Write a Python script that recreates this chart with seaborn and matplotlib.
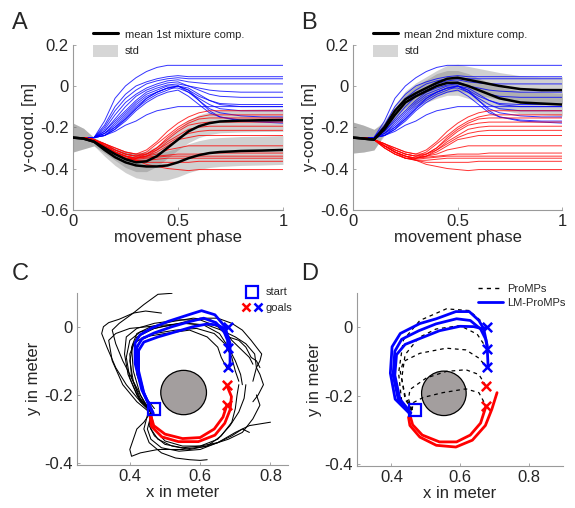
import numpy as np
import pandas as pd
import matplotlib
matplotlib.use("Agg")
import matplotlib.pyplot as plt
import seaborn as sns
from matplotlib.patches import Circle, Patch
from matplotlib.lines import Line2D
from matplotlib.legend_handler import HandlerTuple

#####################################################################################################
# Data
#####################################################################################################
PHASE = [0, .05, .1, .15, .2, .25, .3, .35, .4, .45, .5, .55, .6, .65, .7, .8, .9, 1.0]

BLUE_LINES = [
    [-.25, -.25, -.25, -.17, -.06, 0.0, .04, .07, .09, .10, .10, .10, .10, .10, .10, .10, .10, .10],
    [-.25, -.25, -.25, -.19, -.10, -.04, 0.0, .02, .035, .045, .05, .045, .045, .045, .045, .045, .045, .045],
    [-.25, -.25, -.25, -.20, -.12, -.06, -.02, .01, .025, .035, .04, .035, .035, .035, .035, .035, .035, .035],
    [-.25, -.25, -.25, -.21, -.14, -.08, -.04, -.01, .01, .025, .03, .02, .015, .01, .01, .01, .01, .01],
    [-.25, -.25, -.25, -.22, -.16, -.10, -.05, -.02, 0.0, .015, .02, 0.0, -.01, -.02, -.025, -.03, -.03, -.03],
    [-.25, -.25, -.25, -.22, -.17, -.12, -.07, -.03, -.01, .005, .01, 0.0, -.02, -.04, -.05, -.055, -.055, -.055],
    [-.25, -.25, -.25, -.23, -.18, -.13, -.08, -.04, -.02, 0.0, 0.0, -.02, -.05, -.07, -.085, -.09, -.09, -.09],
    [-.25, -.25, -.25, -.23, -.19, -.14, -.09, -.05, -.03, -.01, 0.0, -.01, -.04, -.07, -.09, -.10, -.10, -.10],
    [-.25, -.25, -.25, -.23, -.20, -.15, -.10, -.06, -.03, -.01, -.01, -.03, -.06, -.09, -.11, -.12, -.12, -.12],
    [-.25, -.25, -.25, -.24, -.20, -.16, -.11, -.07, -.04, -.02, 0.0, -.03, -.07, -.11, -.13, -.145, -.15, -.15],
    [-.25, -.25, -.25, -.24, -.21, -.17, -.12, -.08, -.05, -.03, -.02, -.05, -.09, -.13, -.15, -.165, -.17, -.17],
    [-.25, -.25, -.25, -.24, -.22, -.19, -.17, -.14, -.12, -.11, -.10, -.10, -.10, -.10, -.10, -.10, -.10, -.10],
    [-.25, -.25, -.25, -.24, -.21, -.16, -.11, -.06, -.03, -.01, 0.0, -.02, -.07, -.12, -.15, -.17, -.175, -.18],
]

RED_LINES = [
    [-.25, -.25, -.26, -.28, -.30, -.32, -.33, -.31, -.27, -.22, -.18, -.15, -.13, -.12, -.12, -.12, -.12, -.12],
    [-.25, -.25, -.26, -.28, -.31, -.33, -.34, -.32, -.28, -.24, -.20, -.17, -.15, -.14, -.14, -.14, -.14, -.14],
    [-.25, -.25, -.26, -.29, -.31, -.33, -.34, -.33, -.30, -.25, -.21, -.18, -.16, -.155, -.155, -.155, -.155, -.155],
    [-.25, -.25, -.26, -.29, -.32, -.34, -.35, -.33, -.30, -.26, -.22, -.19, -.18, -.175, -.175, -.175, -.175, -.175],
    [-.25, -.25, -.26, -.28, -.30, -.32, -.33, -.33, -.31, -.27, -.24, -.21, -.20, -.195, -.195, -.195, -.195, -.195],
    [-.25, -.25, -.26, -.29, -.32, -.34, -.35, -.34, -.31, -.28, -.25, -.23, -.22, -.215, -.215, -.215, -.215, -.215],
    [-.25, -.25, -.26, -.30, -.33, -.35, -.35, -.34, -.32, -.29, -.26, -.25, -.24, -.24, -.24, -.24, -.24, -.24],
    [-.25, -.25, -.26, -.28, -.31, -.33, -.34, -.34, -.33, -.31, -.30, -.29, -.29, -.29, -.29, -.29, -.29, -.29],
    [-.25, -.25, -.26, -.29, -.32, -.34, -.35, -.345, -.34, -.335, -.33, -.33, -.33, -.325, -.325, -.325, -.325, -.325],
    [-.25, -.25, -.26, -.29, -.32, -.35, -.355, -.35, -.345, -.34, -.34, -.34, -.34, -.34, -.34, -.34, -.34, -.34],
    [-.25, -.25, -.26, -.30, -.33, -.35, -.36, -.36, -.355, -.35, -.35, -.35, -.35, -.35, -.35, -.35, -.35, -.35],
    [-.25, -.25, -.26, -.30, -.33, -.35, -.36, -.37, -.37, -.37, -.37, -.37, -.365, -.365, -.365, -.365, -.365, -.365],
    [-.25, -.25, -.26, -.29, -.32, -.34, -.36, -.38, -.39, -.40, -.405, -.41, -.405, -.405, -.405, -.405, -.405, -.405],
]

# panel A: 1st mixture component (two means + std)
MEAN_A = [
    [-.25, -.255, -.27, -.30, -.33, -.355, -.37, -.365, -.34, -.30, -.26, -.22, -.195, -.18, -.172, -.168, -.166, -.165],
    [-.25, -.255, -.27, -.31, -.345, -.37, -.385, -.39, -.39, -.385, -.37, -.35, -.335, -.325, -.32, -.315, -.313, -.31],
]
STD_A = [
    [.07, .05, .02, .025, .03, .04, .045, .05, .05, .05, .05, .055, .055, .055, .055, .055, .055, .055],
    [.07, .05, .02, .03, .04, .05, .06, .065, .07, .07, .07, .07, .07, .07, .07, .07, .07, .07],
]
# panel B: 2nd mixture component
MEAN_B = [
    [-.25, -.255, -.26, -.20, -.12, -.065, -.035, -.01, .015, .035, .04, .03, .02, .01, 0.0, -.015, -.02, -.02],
    [-.25, -.255, -.26, -.21, -.14, -.08, -.05, -.025, 0.0, .015, .015, 0.0, -.02, -.04, -.06, -.08, -.085, -.09],
]
STD_B = [
    [.075, .065, .05, .03, .03, .04, .05, .055, .06, .065, .065, .065, .065, .065, .065, .065, .065, .065],
    [.075, .065, .05, .03, .03, .04, .05, .055, .06, .06, .06, .06, .058, .055, .055, .055, .055, .055],
]

# obstacle, start and goals (panels C and D)
OBSTACLE = (0.553, -0.193, 0.065)
START = (0.468, -0.242)
GOALS_BLUE_X = [0.678, 0.678, 0.68]
GOALS_BLUE_Y = [0.0, -0.062, -0.117]
GOALS_RED_X = [0.676, 0.676]
GOALS_RED_Y = [-0.172, -0.23]

# panel C: human demonstrations (black)
C_BLACK_X = [
    [.46, .43, .39, .36, .335, .32, .325, .34, .37, .41, .44, .48, .52],
    [.46, .44, .41, .38, .36, .35, .37, .41, .445, .49],
    [.46, .43, .41, .405, .42, .46, .52, .58, .63, .665, .69, .72, .74, .75],
    [.46, .42, .395, .385, .39, .42, .47, .54, .60, .65, .68, .71, .73, .745, .76, .77],
    [.47, .44, .42, .415, .43, .47, .53, .59, .64, .67, .69, .70, .71],
    [.46, .425, .40, .39, .40, .43, .49, .55, .61, .655, .68, .70, .715, .72],
    [.455, .42, .38, .35, .34, .36, .40, .45, .50, .56, .62, .66, .70, .73, .755, .76, .75],
    [.46, .43, .41, .40, .41, .44, .50, .57, .62, .65, .66, .675, .69],
    [.46, .43, .405, .40, .42, .47, .54, .60, .65, .69, .72, .745, .76, .775, .77, .76, .77, .78, .765, .75],
    [.46, .455, .47, .50, .55, .60, .65, .685, .71, .725, .73],
    [.46, .45, .46, .49, .54, .60, .65, .70, .74, .77, .80],
    [.45, .44, .455, .49, .53, .57, .60, .62],
    [.46, .46, .48, .52, .57, .62, .66, .69, .70, .705, .71],
    [.46, .47, .50, .55, .60, .65, .69, .72, .74],
    [.46, .44, .42, .41, .40, .405, .43, .48, .55, .62, .68, .72, .75, .77, .76],
]
C_BLACK_Y = [
    [-.25, -.22, -.17, -.12, -.06, -.02, 0.0, .012, .022, .04, .065, .095, .098],
    [-.25, -.22, -.16, -.10, -.05, -.01, .01, .04, .046, .04],
    [-.25, -.20, -.13, -.06, -.02, 0.0, .015, .025, .02, -.005, -.04, -.07, -.09, -.11],
    [-.25, -.20, -.14, -.08, -.03, -.005, .01, .02, .02, 0.0, -.03, -.04, -.06, -.09, -.10, -.12],
    [-.24, -.20, -.14, -.08, -.04, -.02, -.01, -.005, -.02, -.05, -.09, -.13, -.16],
    [-.25, -.21, -.15, -.09, -.04, -.015, 0.0, .01, .005, -.02, -.06, -.10, -.14, -.17],
    [-.25, -.22, -.17, -.10, -.04, -.02, -.005, 0.0, .005, .01, .005, -.01, -.03, -.05, -.08, -.12, -.16],
    [-.25, -.22, -.16, -.10, -.05, -.03, -.02, -.01, -.03, -.06, -.09, -.12, -.13],
    [-.25, -.21, -.15, -.08, -.03, -.005, .01, .025, .025, .01, -.01, -.04, -.06, -.08, -.10, -.12, -.14, -.17, -.20, -.22],
    [-.25, -.29, -.32, -.345, -.355, -.35, -.33, -.29, -.25, -.21, -.17],
    [-.26, -.30, -.33, -.355, -.365, -.36, -.34, -.31, -.29, -.285, -.28],
    [-.26, -.30, -.34, -.37, -.385, -.39, -.392, -.39],
    [-.25, -.30, -.33, -.35, -.36, -.35, -.32, -.28, -.24, -.20, -.17],
    [-.25, -.30, -.335, -.35, -.35, -.34, -.32, -.30, -.31],
    [-.25, -.28, -.30, -.33, -.36, -.38, -.37, -.36, -.36, -.35, -.33, -.31, -.27, -.23, -.20],
]

# panel C: learned model trajectories
C_BLUE_X = [
    [.467, .434, .415, .415, .429, .462, .51, .567, .604, .642, .67, .685, .685, .68],
    [.465, .438, .42, .42, .435, .47, .52, .57, .61, .645, .668, .678, .678],
    [.463, .44, .425, .425, .44, .48, .53, .58, .62, .65, .668, .678],
]
C_BLUE_Y = [
    [-.254, -.185, -.107, -.048, -.024, -.004, .016, .035, .047, .035, .001, -.048, -.107, -.121],
    [-.252, -.19, -.12, -.06, -.035, -.018, 0.0, .015, .025, .012, -.015, -.04, -.062],
    [-.25, -.195, -.13, -.07, -.045, -.03, -.015, 0.0, .008, .005, -.005, 0.0],
]
C_RED_X = [
    [.458, .462, .491, .538, .595, .642, .67, .685, .689, .676],
    [.46, .468, .50, .55, .60, .64, .665, .676],
]
C_RED_Y = [
    [-.264, -.293, -.323, -.337, -.337, -.318, -.283, -.244, -.205, -.172],
    [-.262, -.29, -.315, -.328, -.325, -.30, -.265, -.23],
]

# panel D: ProMPs (dashed) and LM-ProMPs
D_DASH_X = [
    [.46, .431, .421, .435, .483, .56, .627, .665, .676],
    [.46, .44, .43, .44, .48, .53, .60, .65, .678],
    [.46, .44, .426, .435, .483, .56, .617, .655, .678],
    [.46, .45, .454, .502, .56, .617, .655, .676],
    [.46, .464, .493, .55, .617, .655, .676],
]
D_DASH_Y = [
    [-.242, -.225, -.134, -.037, .02, .054, .049, .015, 0.0],
    [-.242, -.21, -.15, -.08, -.03, -.005, .005, -.02, -.062],
    [-.242, -.20, -.13, -.10, -.076, -.061, -.066, -.09, -.117],
    [-.242, -.21, -.182, -.148, -.129, -.124, -.138, -.172],
    [-.242, -.22, -.205, -.191, -.18, -.191, -.23],
]
D_BLUE_X = [
    [.455, .411, .397, .402, .426, .483, .531, .588, .627, .655, .669, .679, .682],
    [.455, .42, .405, .41, .43, .48, .53, .59, .63, .66, .675, .68],
    [.457, .425, .41, .415, .44, .49, .54, .60, .64, .665, .678],
]
D_BLUE_Y = [
    [-.254, -.21, -.134, -.057, -.018, .011, .025, .046, .046, .02, -.004, -.052, -.117],
    [-.252, -.21, -.14, -.07, -.035, -.01, .01, .025, .02, -.005, -.035, -.062],
    [-.25, -.21, -.14, -.08, -.05, -.03, -.01, .003, .002, -.004, 0.0],
]
D_RED_X = [
    [.45, .454, .483, .531, .588, .636, .674, .693, .708],
    [.455, .462, .49, .54, .59, .63, .66, .676],
]
D_RED_Y = [
    [-.263, -.287, -.321, -.345, -.35, -.33, -.287, -.239, -.191],
    [-.26, -.285, -.315, -.335, -.335, -.315, -.28, -.23],
]

PHASE_TICKS = [0, 0.5, 1]
PHASE_TICKLABELS = ["0", "0.5", "1"]
YCOORD_TICKS = [0.2, 0, -0.2, -0.4, -0.6]
YCOORD_TICKLABELS = ["0.2", "0", "-0.2", "-0.4", "-0.6"]
XM_TICKS = [0.4, 0.6, 0.8]
XM_TICKLABELS = ["0.4", "0.6", "0.8"]
YM_TICKS = [0, -0.2, -0.4]
YM_TICKLABELS = ["0", "-0.2", "-0.4"]

#####################################################################################################
# Styling
#####################################################################################################
sns.set_theme(style="white")
plt.rcParams["font.family"] = ["Liberation Sans", "DejaVu Sans"]
plt.rcParams["axes.unicode_minus"] = False

SPINE = "#9a9a9a"
BAND = "0.4"
BAND_ALPHA = 0.3


def styleAxes(ax, xticks, xlabels, yticks, ylabels, xlim, ylim, xlabel, ylabel):
    ax.set_xlim(*xlim)
    ax.set_ylim(*ylim)
    ax.set_xticks(xticks)
    ax.set_xticklabels(xlabels)
    ax.set_yticks(yticks)
    ax.set_yticklabels(ylabels)
    ax.set_xlabel(xlabel, fontsize=12, labelpad=1)
    ax.set_ylabel(ylabel, fontsize=12, labelpad=2)
    ax.tick_params(direction="in", length=2.5, width=0.6, color=SPINE, labelsize=12, pad=3,
                   bottom=True, left=True)
    for s in ["top", "right"]:
        ax.spines[s].set_visible(False)
    for s in ["left", "bottom"]:
        ax.spines[s].set_color(SPINE)
        ax.spines[s].set_linewidth(0.8)


def drawThinLines(ax):
    rows = []
    for i, ys in enumerate(BLUE_LINES):
        for p, y in zip(PHASE, ys):
            rows.append({"phase": p, "y": y, "traj": f"b{i}", "grp": "blue"})
    for i, ys in enumerate(RED_LINES):
        for p, y in zip(PHASE, ys):
            rows.append({"phase": p, "y": y, "traj": f"r{i}", "grp": "red"})
    df = pd.DataFrame(rows)
    sns.lineplot(data=df, x="phase", y="y", units="traj", hue="grp", estimator=None,
                 palette={"blue": "#0000ff", "red": "#ff0000"}, lw=0.7, alpha=0.8,
                 legend=False, ax=ax, zorder=3)


def drawMixture(ax, means, stds, label):
    for m, s in zip(means, stds):
        m = np.array(m)
        s = np.array(s)
        ax.fill_between(PHASE, m - s, m + s, color=BAND, alpha=BAND_ALPHA, lw=0, zorder=1)
    for m in means:
        sns.lineplot(x=PHASE, y=m, color="black", lw=1.8, ax=ax, zorder=4)
    handles = [Line2D([], [], color="black", lw=2.2), Patch(facecolor="#d6d6d6", edgecolor="none")]
    ax.legend(handles, [label, "std"], loc="upper left", bbox_to_anchor=(0.06, 1.145),
              frameon=False, fontsize=8, handlelength=2.2, handleheight=1.3,
              labelspacing=0.35, handletextpad=0.6, borderpad=0.2)


def drawObstacle(ax):
    cx, cy, r = OBSTACLE
    ax.add_patch(Circle((cx, cy), r, facecolor="#a39e9e", edgecolor="black", lw=0.9, zorder=2))


def drawGoals(ax):
    sns.scatterplot(x=GOALS_BLUE_X, y=GOALS_BLUE_Y, marker="x", color="#0000ff", s=45,
                    linewidth=1.8, ax=ax, zorder=7)
    sns.scatterplot(x=GOALS_RED_X, y=GOALS_RED_Y, marker="x", color="#ff0000", s=45,
                    linewidth=1.8, ax=ax, zorder=7)
    ax.plot(*START, marker="s", ms=9, mfc="none", mec="#0000ff", mew=1.6, zorder=8)


def drawPaths(ax, xs_list, ys_list, **kw):
    for xs, ys in zip(xs_list, ys_list):
        sns.lineplot(x=xs, y=ys, sort=False, estimator=None, ax=ax, **kw)


#####################################################################################################
# Figure
#####################################################################################################
fig = plt.figure(figsize=(5.75, 5.08), dpi=100)
axA = fig.add_axes([0.127, 0.587, 0.365, 0.325])
axB = fig.add_axes([0.614, 0.587, 0.364, 0.325])
axC = fig.add_axes([0.134, 0.085, 0.367, 0.339])
axD = fig.add_axes([0.621, 0.083, 0.358, 0.340])

# A and B
for ax, means, stds, label in [(axA, MEAN_A, STD_A, "mean 1st mixture comp."),
                               (axB, MEAN_B, STD_B, "mean 2nd mixture comp.")]:
    drawThinLines(ax)
    drawMixture(ax, means, stds, label)
    styleAxes(ax, PHASE_TICKS, PHASE_TICKLABELS, YCOORD_TICKS, YCOORD_TICKLABELS,
              (0, 1), (-0.6, 0.2), "movement phase", "y-coord. [m]")

# C
drawObstacle(axC)
drawPaths(axC, C_BLACK_X, C_BLACK_Y, color="black", lw=0.75, zorder=3)
drawPaths(axC, C_BLUE_X, C_BLUE_Y, color="#0000ff", lw=2.0, zorder=5)
drawPaths(axC, C_RED_X, C_RED_Y, color="#ff0000", lw=2.0, zorder=5)
drawGoals(axC)
styleAxes(axC, XM_TICKS, XM_TICKLABELS, YM_TICKS, YM_TICKLABELS,
          (0.25, 0.85), (-0.405, 0.1), "x in meter", "y in meter")
hStart = Line2D([], [], ls="none", marker="s", ms=8, mfc="none", mec="#0000ff", mew=1.6)
hGoals = (Line2D([], [], ls="none", marker="x", ms=6, mec="#ff0000", mew=1.8),
          Line2D([], [], ls="none", marker="x", ms=6, mec="#0000ff", mew=1.8))
axC.legend([hStart, hGoals], ["start", "goals"], loc="upper left", bbox_to_anchor=(0.75, 1.075),
           frameon=False, fontsize=8, handlelength=1.6, handletextpad=0.4, labelspacing=0.5,
           borderpad=0.2, handler_map={tuple: HandlerTuple(ndivide=None, pad=0.4)})

# D
drawObstacle(axD)
drawPaths(axD, D_DASH_X, D_DASH_Y, color="black", lw=0.9, ls=(0, (3, 3)), zorder=3)
drawPaths(axD, D_BLUE_X, D_BLUE_Y, color="#0000ff", lw=2.0, zorder=5)
drawPaths(axD, D_RED_X, D_RED_Y, color="#ff0000", lw=2.0, zorder=5)
drawGoals(axD)
styleAxes(axD, XM_TICKS, XM_TICKLABELS, YM_TICKS, YM_TICKLABELS,
          (0.3, 0.9), (-0.405, 0.1), "x in meter", "y in meter")
axD.legend([Line2D([], [], color="black", lw=1, ls=(0, (3, 3))),
            Line2D([], [], color="#0000ff", lw=2)], ["ProMPs", "LM-ProMPs"],
           loc="upper left", bbox_to_anchor=(0.55, 1.1), frameon=False, fontsize=8,
           handlelength=2.2, handletextpad=0.4, labelspacing=0.35, borderpad=0.2)

# panel letters
for txt, x, y in [("A", 0.02, 0.955), ("B", 0.523, 0.955), ("C", 0.02, 0.46), ("D", 0.523, 0.46)]:
    fig.text(x, y, txt, fontsize=17, va="center", ha="left")

fig.savefig("out.png", dpi=100)
